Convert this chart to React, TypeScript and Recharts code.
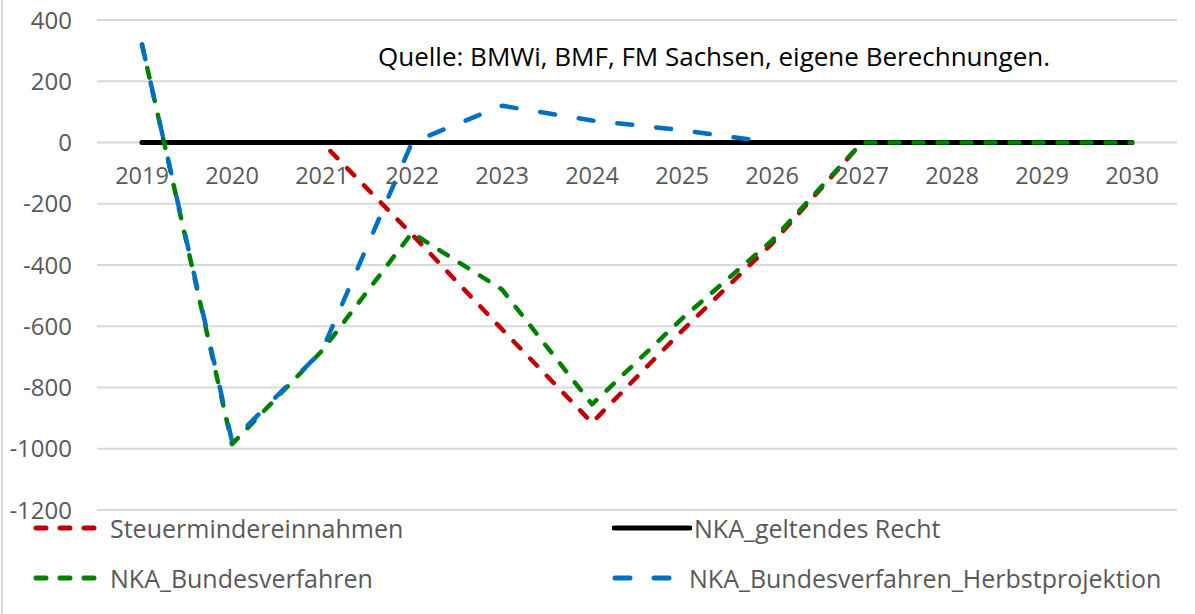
import React from "react";
import { LineChart, Line, XAxis, YAxis, CartesianGrid, ReferenceDot, Legend } from "recharts";

const years = ["2019", "2020", "2021", "2022", "2023", "2024", "2025", "2026", "2027", "2028", "2029", "2030"];
const steuermindereinnahmen = [0, 0, 0, -300, -610, -915, -615, -330, 0, 0, 0, 0];
const geltendesRecht = [0, 0, 0, 0, 0, 0, 0, 0, 0, 0, 0, 0];
const bundesverfahren = [320, -985, -680, -295, -480, -855, -575, -320, 0, 0, 0, 0];
const herbstprojektion: (number | null)[] = [320, -975, -680, 0, 120, 72, 40, 0, null, null, null, null];
const yTicks = [-1200, -1000, -800, -600, -400, -200, 0, 200, 400];
const sourceNote = "Quelle: BMWi, BMF, FM Sachsen, eigene Berechnungen.";

const data = years.map((y, i) => ({
  year: y,
  steuer: steuermindereinnahmen[i],
  recht: geltendesRecht[i],
  bund: bundesverfahren[i],
  herbst: herbstprojektion[i],
}));

const FONT = "'Open Sans', sans-serif";
const GRAY = "#595959";

const legendItems = [
  { label: "Steuermindereinnahmen", color: "#c00000", dash: "10 14", left: 33, top: 0 },
  { label: "NKA_geltendes Recht", color: "#000000", dash: undefined, left: 612, top: 0 },
  { label: "NKA_Bundesverfahren", color: "#008000", dash: "10 14", left: 33, top: 50 },
  { label: "NKA_Bundesverfahren_Herbstprojektion", color: "#0070c0", dash: "15 24", left: 612, top: 50 },
];

const LegendContent = () => (
  <div style={{ position: "relative", width: 1195, height: 100, fontFamily: FONT }}>
    {legendItems.map((it) => (
      <div
        key={it.label}
        style={{ position: "absolute", left: it.left, top: it.top, display: "flex", alignItems: "center", height: 40 }}
      >
        <svg width={80} height={10} style={{ display: "block" }}>
          <line
            x1={it.dash ? 3 : 2}
            y1={5}
            x2={it.dash ? 62 : 78}
            y2={5}
            stroke={it.color}
            strokeWidth={5}
            strokeDasharray={it.dash}
            strokeLinecap="round"
          />
        </svg>
        <span style={{ fontSize: 25, color: GRAY, marginLeft: it.dash ? -3 : 2, whiteSpace: "nowrap" }}>{it.label}</span>
      </div>
    ))}
  </div>
);

export default function App() {
  return (
    <div style={{ position: "absolute", left: 0, top: 0, width: 1195, height: 614, background: "#fff" }}>
      <div style={{ position: "absolute", left: 1, top: 0, width: 0, height: 614, borderLeft: "2px solid #d9d9d9" }} />
      <LineChart
        width={1195}
        height={614}
        data={data}
        margin={{ top: 20, right: 18, left: 0, bottom: 4 }}
      >
        <CartesianGrid vertical={false} stroke="#d9d9d9" strokeWidth={2} />
        <XAxis dataKey="year" scale="band" hide />
        <YAxis
          domain={[-1200, 400]}
          ticks={yTicks}
          width={97}
          axisLine={false}
          tickLine={false}
          tickSize={0}
          tickMargin={25}
          interval={0}
          tick={{ fill: GRAY, fontSize: 24, fontFamily: FONT }}
        />
        {years.map((y) => (
          <ReferenceDot
            key={y}
            x={y}
            y={0}
            r={1}
            fill="none"
            stroke="none"
            label={{ value: y, position: "bottom", offset: 24, fill: GRAY, fontSize: 23.5, fontFamily: FONT }}
          />
        ))}
        <Line
          dataKey="steuer"
          type="linear"
          stroke="#c00000"
          strokeWidth={4.5}
          strokeDasharray="10 14"
          strokeLinecap="round"
          strokeLinejoin="round"
          dot={false}
          isAnimationActive={false}
        />
        <Line
          dataKey="recht"
          type="linear"
          stroke="#000000"
          strokeWidth={5}
          strokeLinecap="round"
          dot={false}
          isAnimationActive={false}
        />
        <Line
          dataKey="bund"
          type="linear"
          stroke="#008000"
          strokeWidth={4.5}
          strokeDasharray="10 14"
          strokeLinecap="round"
          strokeLinejoin="round"
          dot={false}
          isAnimationActive={false}
        />
        <Line
          dataKey="herbst"
          type="linear"
          stroke="#0070c0"
          strokeWidth={4.5}
          strokeDasharray="15 24"
          strokeLinecap="round"
          strokeLinejoin="round"
          dot={false}
          connectNulls={false}
          isAnimationActive={false}
        />
        <Legend
          verticalAlign="bottom"
          content={<LegendContent />}
          wrapperStyle={{ left: 0, top: 508, width: 1195, height: 100 }}
        />
      </LineChart>
      <div
        style={{
          position: "absolute",
          left: 378,
          top: 38,
          fontFamily: FONT,
          fontSize: 26,
          color: "#000",
          whiteSpace: "nowrap",
        }}
      >
        {sourceNote}
      </div>
    </div>
  );
}
